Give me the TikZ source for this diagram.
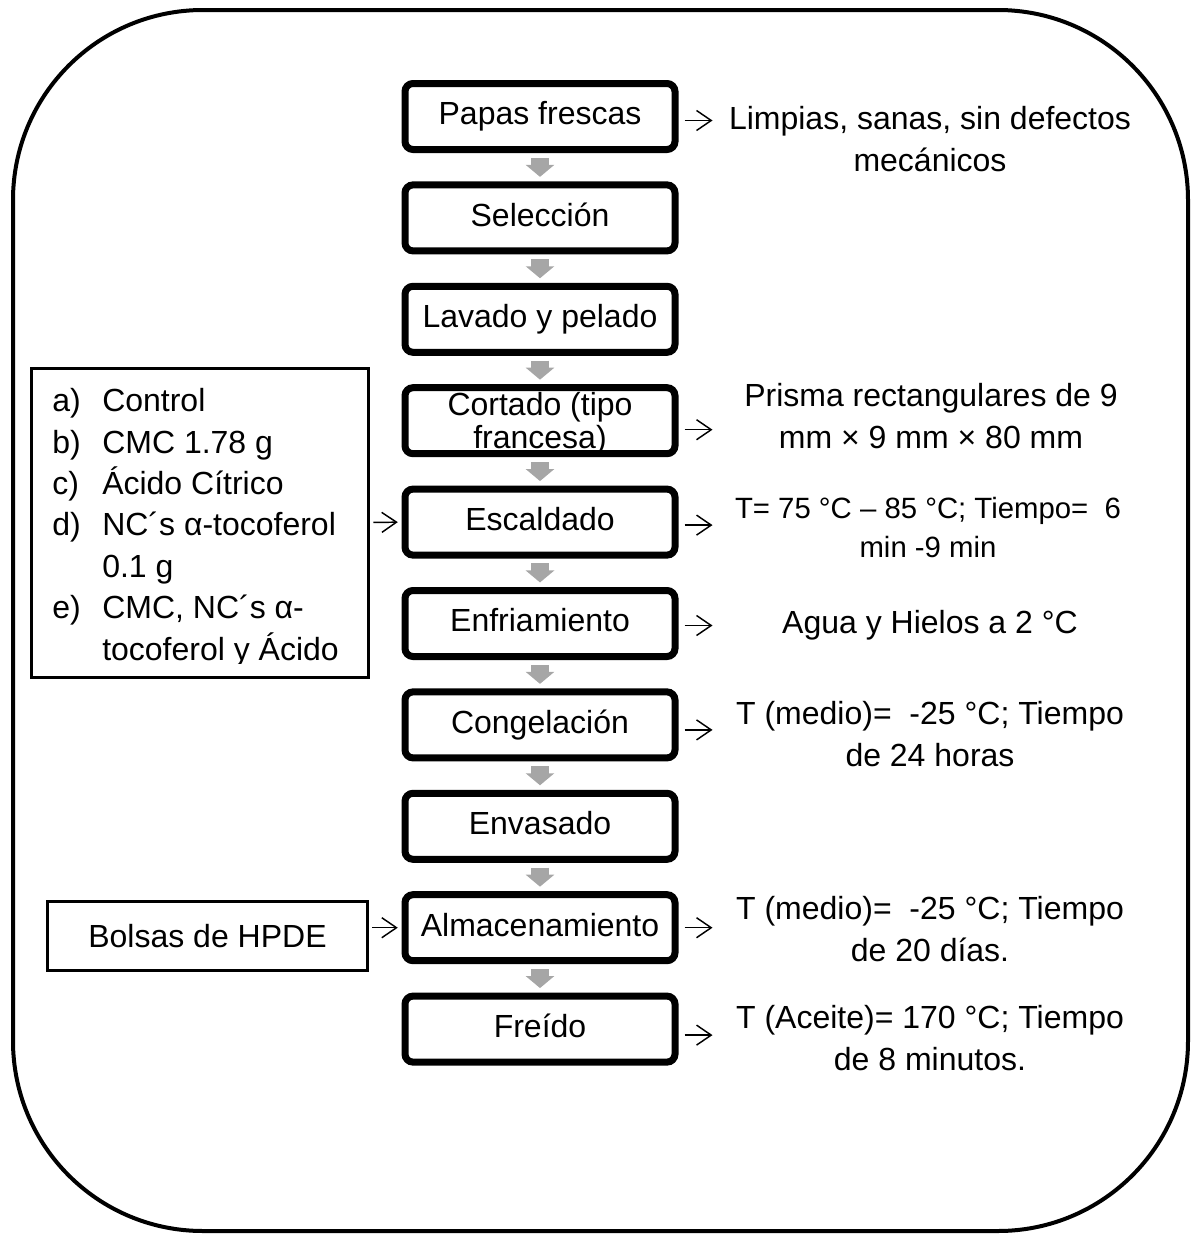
\documentclass[tikz,border=0pt]{standalone}
\usepackage{fontspec}
\setmainfont{Liberation Sans}
\usetikzlibrary{arrows.meta,calc}
\definecolor{flowgray}{HTML}{A6A6A6}
\begin{document}
\begin{tikzpicture}[x=0.75pt,y=-0.75pt,
  stepbox/.style={draw, line width=5.25pt, rounded corners=6pt, fill=white,
    minimum width=202.5pt, minimum height=49.5pt, inner sep=0pt,
    text height=17.5pt, text depth=5pt, font=\fontsize{24}{27}\selectfont},
  sidebox/.style={draw, line width=2.25pt, fill=white, inner sep=0pt},
  note/.style={align=center, inner sep=0pt, font=\fontsize{24}{31.5}\selectfont},
  flowarr/.style={draw=flowgray, line width=13.5pt,
    -{Triangle[length=9pt, width=21pt]}, shorten <=3.6pt, shorten >=3.4pt},
  thinarr/.style={draw, line width=1.1pt, -{Straight Barb[length=11pt, width=15pt]}},
]
\useasboundingbox (0,0) rectangle (1198,1235);
% outer frame
\draw[line width=3pt, rounded corners=142.5pt] (13,10) rectangle (1188,1231);

% process steps
\node[stepbox] (b1) at (540,116.5) {Papas frescas};
\node[stepbox] (b2) at (540,217.9) {Selección};
\node[stepbox] (b3) at (540,319.3) {Lavado y pelado};
\node[stepbox] (b4) at (540,420.7) {};
\node[note, font=\fontsize{24}{24.75}\selectfont] (b4t) at (540,423.7) {Cortado (tipo\\francesa)};
\node[stepbox] (b5) at (540,522.1) {Escaldado};
\node[stepbox] (b6) at (540,623.5) {Enfriamiento};
\node[stepbox] (b7) at (540,724.9) {Congelación};
\node[stepbox] (b8) at (540,826.3) {Envasado};
\node[stepbox] (b9) at (540,927.7) {Almacenamiento};
\node[stepbox] (b10) at (540,1029.1) {Freído};

\foreach \a/\b in {b1/b2,b2/b3,b3/b4,b4/b5,b5/b6,b6/b7,b7/b8,b8/b9,b9/b10}
  \draw[flowarr] (\a.south) -- (\b.north);

% side notes
\node[note] (t1) at (930,138.8) {Limpias, sanas, sin defectos\\mecánicos};
\node[note] (t4) at (931,415.8) {Prisma rectangulares de 9\\mm × 9 mm × 80 mm};
\node[note, font=\fontsize{22}{29.25}\selectfont] (t5) at (928,527.3) {T= 75 °C – 85 °C; Tiempo=\ \ 6\\min -9 min};
\node[note] (t6) at (930,625) {Agua y Hielos a 2 °C};
\node[note] (t7) at (930,733.8) {T (medio)=\ \ -25 °C; Tiempo\\de 24 horas};
\node[note] (t9) at (930,928.8) {T (medio)=\ \ -25 °C; Tiempo\\de 20 días.};
\node[note] (t10) at (930,1037.8) {T (Aceite)= 170 °C; Tiempo\\de 8 minutos.};

\draw[thinarr] ($(b1.east)+(6,4)$) -- ++(28,0);
\draw[thinarr] ($(b4.east)+(6,9)$) -- ++(28,0);
\draw[thinarr] ($(b5.east)+(6,3)$) -- ++(28,0);
\draw[thinarr] ($(b6.east)+(6,2)$) -- ++(28,0);
\draw[thinarr] ($(b7.east)+(6,5)$) -- ++(28,0);
\draw[thinarr] ($(b9.east)+(6,0)$) -- ++(28,0);
\draw[thinarr] ($(b10.east)+(6,6)$) -- ++(28,0);

% treatments box
\node[sidebox, minimum width=252.75pt, minimum height=231.75pt] (opts) at (200,522.5) {};
\begin{scope}
  \clip (33,369.5) rectangle (367,663.5);
  \node[anchor=north west, inner sep=0pt, align=left, font=\fontsize{24}{31.05}\selectfont] (optst) at (52,388.3)
    {\makebox[37.5pt][l]{a)}Control\\
     \makebox[37.5pt][l]{b)}CMC 1.78 g\\
     \makebox[37.5pt][l]{c)}Ácido Cítrico\\
     \makebox[37.5pt][l]{d)}NC´s α-tocoferol\\
     \hspace*{37.5pt}0.1 g\\
     \makebox[37.5pt][l]{e)}CMC, NC´s α-\\
     \hspace*{37.5pt}tocoferol y Ácido\\
     \hspace*{37.5pt}Cítrico};
\end{scope}
\draw[thinarr, shorten <=2.5pt, shorten >=2.8pt] (opts.east) -- (b5.west);

% packaging box
\node[sidebox, minimum width=240pt, minimum height=51.75pt, font=\fontsize{24}{27}\selectfont] (bolsas) at (207.5,936) {Bolsas de HPDE};
\draw[thinarr, shorten <=2.5pt, shorten >=2.8pt] (bolsas.east |- b9.west) -- (b9.west);
\end{tikzpicture}
\end{document}
